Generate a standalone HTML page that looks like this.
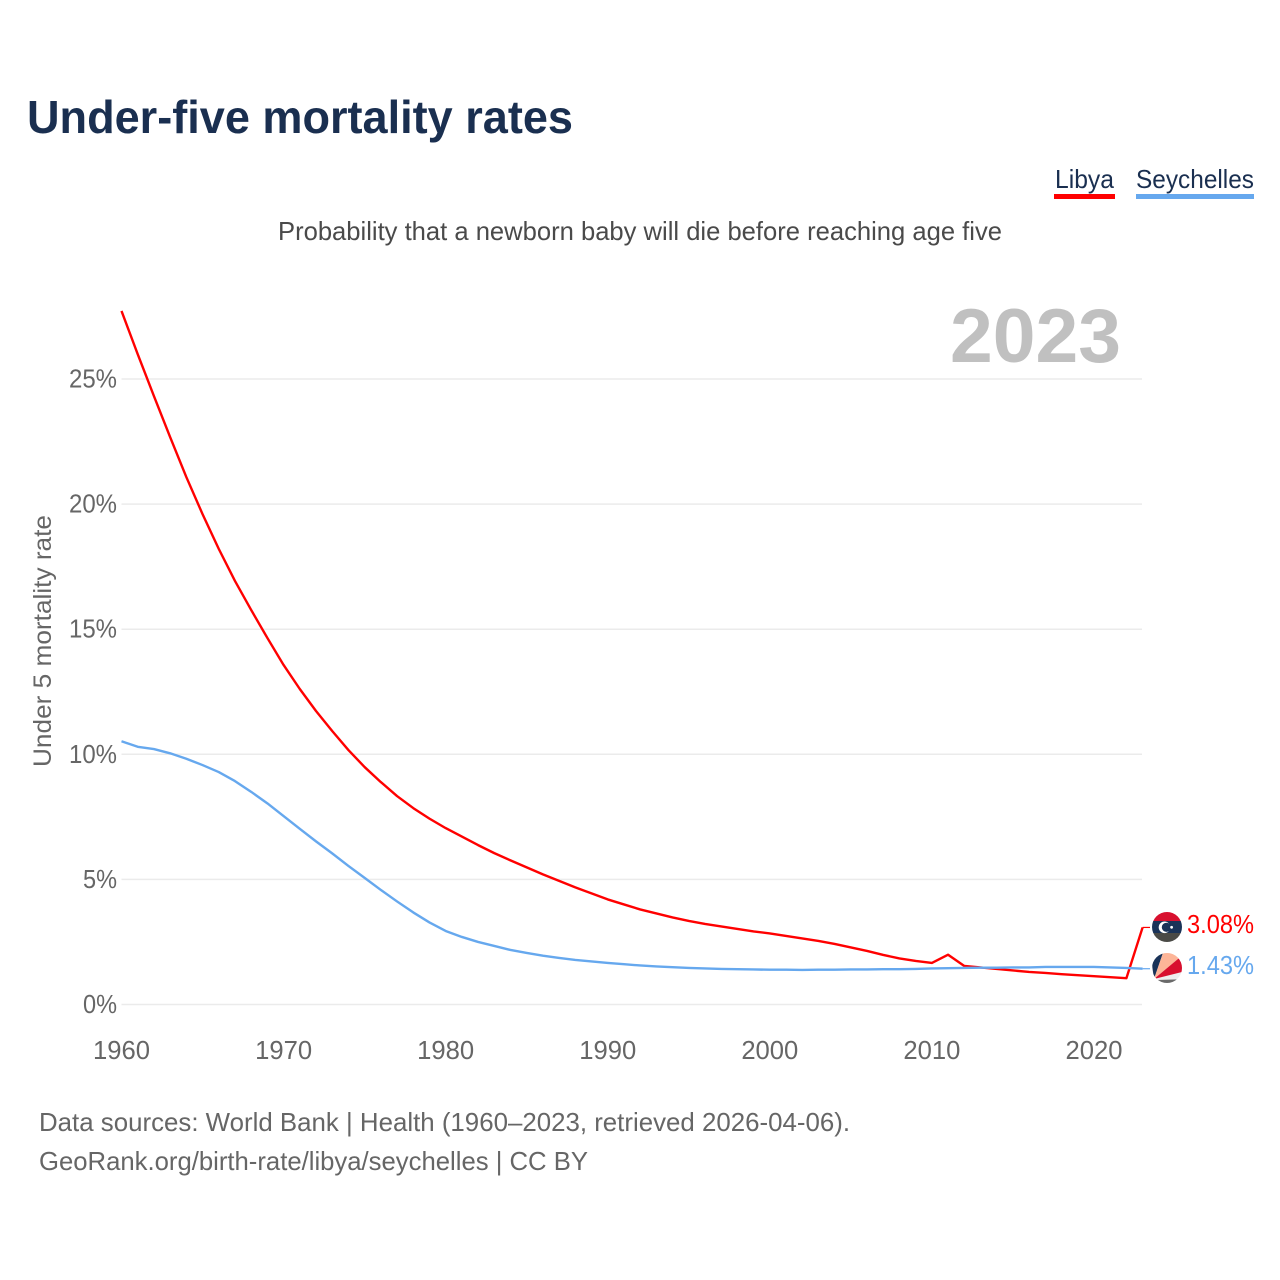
<!DOCTYPE html>
<html lang="en">
<head>
<meta charset="utf-8">
<title>Under-five mortality rates</title>
<style>
html,body{margin:0;padding:0;background:#fff;}
svg{display:block;font-family:"Liberation Sans",sans-serif;}
</style>
</head>
<body>
<svg id="chart" xmlns="http://www.w3.org/2000/svg" width="1280" height="1280" viewBox="0 0 1280 1280">
<defs>
<clipPath id="clip-libya"><circle cx="1167" cy="927" r="15"/></clipPath>
<clipPath id="clip-sey"><circle cx="1167" cy="968" r="15"/></clipPath>
</defs>
<rect width="1280" height="1280" fill="#fff"/>
<text x="27" y="133" font-size="46" font-weight="700" fill="#1a2f50" textLength="546" lengthAdjust="spacingAndGlyphs">Under-five mortality rates</text>
<text x="1055" y="188" font-size="26" fill="#1a2f50" textLength="59" lengthAdjust="spacingAndGlyphs">Libya</text>
<rect x="1054" y="194" width="61" height="5" fill="#ff0000"/>
<text x="1136" y="188" font-size="26" fill="#1a2f50" textLength="118" lengthAdjust="spacingAndGlyphs">Seychelles</text>
<rect x="1136" y="194" width="118" height="5" fill="#66a8ee"/>
<text x="278" y="240" font-size="26" fill="#4a4a4a" textLength="724" lengthAdjust="spacingAndGlyphs">Probability that a newborn baby will die before reaching age five</text>
<text x="950" y="362" font-size="76" font-weight="700" fill="#c0c0c0" textLength="171" lengthAdjust="spacingAndGlyphs">2023</text>
<g id="grid"></g>
<g id="yticks"></g>
<g id="xticks"></g>
<text transform="translate(51,767) rotate(-90)" font-size="25" fill="#666" textLength="252" lengthAdjust="spacingAndGlyphs">Under 5 mortality rate</text>
<g id="series"></g>
<g clip-path="url(#clip-libya)">
<rect x="1152" y="912" width="30" height="9" fill="#d8102f"/>
<rect x="1152" y="921" width="30" height="12" fill="#1a3358"/>
<rect x="1152" y="933" width="30" height="9" fill="#4a4a46"/>
<circle cx="1164.5" cy="927.3" r="5.8" fill="#fff"/>
<circle cx="1166.4" cy="927.3" r="4.6" fill="#1a3358"/>
<circle cx="1171.6" cy="927.3" r="1.4" fill="#fff"/>
</g>
<g clip-path="url(#clip-sey)">
<rect x="1150" y="950" width="34" height="36" fill="#eeeeee"/>
<polygon points="1154,979 1150,950 1164,950" fill="#1a3358"/>
<polygon points="1154,979 1164,950 1190,949" fill="#fdb598"/>
<polygon points="1154,979 1190,949 1190,970" fill="#d8102f"/>
<polygon points="1157,980 1190,979 1190,990 1157,990" fill="#6a6a6a"/>
</g>
<text x="1254" y="933" font-size="26" fill="#ff0000" text-anchor="end" textLength="67" lengthAdjust="spacingAndGlyphs">3.08%</text>
<text x="1254" y="974" font-size="26" fill="#66a8ee" text-anchor="end" textLength="67" lengthAdjust="spacingAndGlyphs">1.43%</text>
<text x="39" y="1131" font-size="26" fill="#666" textLength="811" lengthAdjust="spacingAndGlyphs">Data sources: World Bank | Health (1960–2023, retrieved 2026-04-06).</text>
<text x="39" y="1170" font-size="26" fill="#666" textLength="549" lengthAdjust="spacingAndGlyphs">GeoRank.org/birth-rate/libya/seychelles | CC BY</text>
</svg>
<script>
const startYear = 1960;
const endYear = 2023;
const yTickValues = [0, 5, 10, 15, 20, 25];
const xTickValues = [1960, 1970, 1980, 1990, 2000, 2010, 2020];
const libyaValues = [27.72,25.99,24.32,22.68,21.08,19.60,18.21,16.93,15.77,14.65,13.57,12.61,11.73,10.93,10.17,9.49,8.89,8.33,7.85,7.43,7.05,6.71,6.37,6.05,5.76,5.48,5.20,4.94,4.68,4.44,4.20,4.00,3.80,3.64,3.48,3.34,3.22,3.12,3.02,2.92,2.84,2.74,2.64,2.54,2.42,2.28,2.14,1.98,1.84,1.74,1.66,1.99,1.54,1.48,1.42,1.36,1.30,1.26,1.21,1.17,1.13,1.09,1.05,3.08];
const seychellesValues = [10.52,10.30,10.21,10.04,9.82,9.57,9.29,8.93,8.50,8.04,7.53,7.02,6.52,6.04,5.54,5.06,4.58,4.12,3.68,3.28,2.94,2.70,2.50,2.34,2.18,2.06,1.95,1.86,1.78,1.72,1.66,1.61,1.56,1.52,1.49,1.46,1.44,1.42,1.41,1.40,1.39,1.39,1.38,1.39,1.39,1.40,1.40,1.41,1.41,1.42,1.44,1.45,1.46,1.47,1.47,1.48,1.48,1.50,1.50,1.50,1.50,1.48,1.46,1.43];

const NS = 'http://www.w3.org/2000/svg';
function xScale(year) { return 121.5 + (year - startYear) * (1142.6 - 121.5) / (endYear - startYear); }
function yScale(pct) { return 1004.5 - pct * 25.02; }
function make(tag, attrs, parent) {
  const el = document.createElementNS(NS, tag);
  for (const k in attrs) el.setAttribute(k, attrs[k]);
  parent.appendChild(el);
  return el;
}
const grid = document.getElementById('grid');
const yticks = document.getElementById('yticks');
const xticks = document.getElementById('xticks');
const series = document.getElementById('series');

yTickValues.forEach(function (v) {
  const line = make('line', {x1: 121.5, x2: 1142, y1: yScale(v), y2: yScale(v), stroke: '#ebebeb', 'stroke-width': 1.5}, grid);
  
  
  const label = make('text', {x: 117, y: yScale(v) + 8.5, 'font-size': 26, fill: '#666', 'text-anchor': 'end', textLength: v >= 10 ? 48 : 34, lengthAdjust: 'spacingAndGlyphs'}, yticks);
  label.textContent = v + '%';
  
  
});

xTickValues.forEach(function (year) {
  const label = make('text', {x: xScale(year), y: 1059, 'font-size': 26, fill: '#666', 'text-anchor': 'middle', textLength: 57, lengthAdjust: 'spacingAndGlyphs'}, xticks);
  label.textContent = String(year);
  
  
});

function linePoints(values) {
  return values.map(function (v, i) { return xScale(startYear + i).toFixed(2) + ',' + yScale(v).toFixed(2); }).join(' ');
}
const libyaLine = make('polyline', {points: linePoints(libyaValues), fill: 'none', stroke: '#ff0000', 'stroke-width': 2.4, 'stroke-linejoin': 'round'}, series);


const seyLine = make('polyline', {points: linePoints(seychellesValues), fill: 'none', stroke: '#66a8ee', 'stroke-width': 2.4, 'stroke-linejoin': 'round'}, series);



const libyaEnd = libyaValues[libyaValues.length - 1];
const seyEnd = seychellesValues[seychellesValues.length - 1];
const libyaLeader = make('line', {x1: xScale(endYear), x2: 1150, y1: yScale(libyaEnd), y2: yScale(libyaEnd), stroke: '#ff0000', 'stroke-width': 1.2}, series);


const seyLeader = make('line', {x1: xScale(endYear), x2: 1150, y1: yScale(seyEnd), y2: yScale(seyEnd), stroke: '#66a8ee', 'stroke-width': 1.2}, series);


</script>
</body>
</html>
